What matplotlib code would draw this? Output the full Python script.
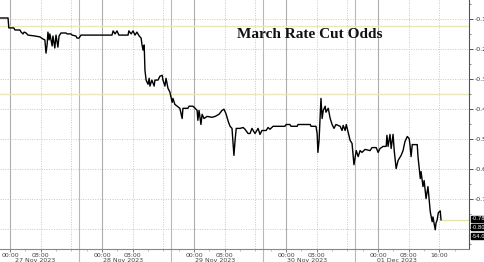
import numpy as np
import matplotlib
matplotlib.use("Agg")
import matplotlib.pyplot as plt
from matplotlib.ticker import MultipleLocator, FixedLocator

# DATOS (horas desde 27 Nov 2023 00:00, probabilidad implícita)
horas = [-2.6, -0.5, -0.3, 1.0, 1.3, 2.6, 2.9, 3.4, 3.7, 4.2, 4.7, 6.5, 7.8, 8.6, 9.1,
         9.4, 9.7, 9.9, 10.2, 10.4, 11.0, 11.2, 11.7, 12.0, 12.5, 12.8, 13.3, 14.6, 14.9,
         15.9, 16.2, 17.2, 17.5, 18.0, 18.5, 26.6, 26.9, 27.4, 27.9, 28.4, 30.8, 31.0,
         31.6, 32.1, 32.6, 33.1, 33.7, 34.2, 34.4, 34.7, 35.0, 35.2, 35.5, 36.0, 36.3,
         36.5, 37.0, 37.6, 37.8, 38.6, 39.1, 39.7, 39.9, 40.4, 40.7, 41.2, 41.7, 42.3,
         42.5, 43.0, 43.6, 44.3, 44.9, 45.1, 46.4, 46.7, 47.7, 48.3, 48.8, 49.0, 49.3,
         49.8, 50.1, 50.6, 51.4, 52.7, 53.5, 54.5, 55.3, 55.8, 56.3, 57.0, 57.4, 57.9,
         58.2, 58.4, 58.7, 59.0, 60.0, 60.8, 61.3, 62.1, 62.6, 63.1, 63.9, 64.7, 65.2,
         65.7, 66.8, 67.3, 67.8, 68.6, 71.7, 72.0, 73.0, 73.3, 74.9, 75.1, 78.3, 78.5,
         79.8, 80.1, 80.3, 80.6, 81.1, 81.4, 81.7, 82.2, 82.4, 83.0, 83.5, 84.0, 84.5,
         85.0, 86.1, 86.6, 86.9, 87.4, 87.7, 88.2, 88.7, 89.2, 89.7, 90.3, 90.8, 91.3,
         91.8, 92.6, 93.9, 94.4, 95.5, 96.0, 96.5, 97.3, 98.1, 98.3, 98.6, 99.1, 99.4,
         99.9, 100.2, 100.7, 101.2, 102.0, 102.5, 103.0, 103.6, 104.1, 104.3, 104.6,
         104.9, 106.2, 106.4, 107.0, 107.2, 107.7, 108.0, 108.5, 109.0, 109.6, 110.1,
         110.3, 110.9, 111.1, 111.4, 111.7, 112.2, 112.4]
odds = [-0.097, -0.097, -0.130, -0.130, -0.137, -0.137, -0.144, -0.150, -0.144, -0.147,
        -0.154, -0.157, -0.160, -0.167, -0.170, -0.214, -0.184, -0.144, -0.170, -0.150,
        -0.190, -0.157, -0.197, -0.154, -0.194, -0.157, -0.147, -0.147, -0.150, -0.150,
        -0.154, -0.157, -0.164, -0.164, -0.154, -0.154, -0.140, -0.150, -0.140, -0.154,
        -0.154, -0.140, -0.150, -0.140, -0.154, -0.144, -0.157, -0.164, -0.184, -0.204,
        -0.187, -0.271, -0.304, -0.318, -0.298, -0.324, -0.304, -0.324, -0.304, -0.304,
        -0.291, -0.288, -0.304, -0.324, -0.298, -0.331, -0.344, -0.378, -0.365, -0.385,
        -0.391, -0.398, -0.432, -0.398, -0.398, -0.391, -0.391, -0.398, -0.405, -0.438,
        -0.405, -0.452, -0.418, -0.432, -0.425, -0.428, -0.425, -0.418, -0.405, -0.401,
        -0.415, -0.445, -0.458, -0.465, -0.522, -0.555, -0.505, -0.465, -0.465, -0.462,
        -0.468, -0.482, -0.482, -0.465, -0.482, -0.465, -0.485, -0.472, -0.472, -0.462,
        -0.468, -0.458, -0.458, -0.452, -0.452, -0.458, -0.458, -0.452, -0.452, -0.458,
        -0.458, -0.482, -0.545, -0.505, -0.365, -0.432, -0.405, -0.391, -0.411, -0.398,
        -0.432, -0.452, -0.465, -0.452, -0.458, -0.472, -0.455, -0.472, -0.452, -0.478,
        -0.505, -0.515, -0.586, -0.539, -0.559, -0.539, -0.545, -0.535, -0.539, -0.529,
        -0.529, -0.545, -0.532, -0.525, -0.525, -0.488, -0.525, -0.485, -0.532, -0.485,
        -0.539, -0.599, -0.572, -0.555, -0.539, -0.509, -0.492, -0.499, -0.519, -0.559,
        -0.519, -0.519, -0.559, -0.632, -0.609, -0.659, -0.639, -0.699, -0.659, -0.743,
        -0.776, -0.760, -0.803, -0.780, -0.770, -0.746, -0.740, -0.770]

niveles_amarillos = [-0.123, -0.35]
ticks_y = [-0.10, -0.20, -0.30, -0.40, -0.50, -0.60, -0.70, -0.80]
# la etiqueta -0.80 queda tapada por las cajas del último valor
etiquetas_y = ["-0.10", "-0.20", "-0.30", "-0.40", "-0.50", "-0.60", "-0.70", ""]
ticks_x = [0, 8, 24, 32, 48, 56, 72, 80, 96, 104, 112]
etiquetas_x = ["00:00", "08:00"] * 5 + ["16:00"]
fechas = ["27 Nov 2023", "28 Nov 2023", "29 Nov 2023", "30 Nov 2023", "01 Dec 2023"]
pos_fechas = [6.5, 29.5, 53.5, 77.5, 101.0]
separadores = [18, 42, 66, 90]
etiquetas_ultimo = ["-0.78", "-0.80", "-54.0"]

fig = plt.figure(figsize=(4.85, 2.62), dpi=100)
ax = fig.add_axes([0, 13 / 262, 469 / 485, 249 / 262])
ax.set_xlim(-2.6, 119.7)
ax.set_ylim(-0.867, -0.037)

# rejilla
for y in ticks_y:
    ax.axhline(y, color="#c8c8c8", lw=0.7, ls=(0, (1, 1.5)), zorder=1)
for d in range(5):
    ax.axvline(24 * d, color="#adadad", lw=0.8, zorder=1)
    for h in (8, 16):
        ax.axvline(24 * d + h, color="#c8c8c8", lw=0.7, ls=(0, (1, 1.5)), zorder=1)
for s in separadores:
    ax.axvline(s, ymin=-13 / 249, ymax=1, color="#b8b8b8", lw=0.8, clip_on=False, zorder=1)
for y in niveles_amarillos:
    ax.axhline(y, color="#e9e9b8", lw=1.0, zorder=1)

ax.plot(horas, odds, color="black", lw=1.0, zorder=3)
ax.hlines(odds[-1], horas[-1], 119.7, color="#e3e3a8", lw=0.9, zorder=2)

ax.text(0.66, 0.86, "March Rate Cut Odds", transform=ax.transAxes, ha="center", va="center",
        fontsize=11, fontweight="bold", family="Liberation Serif", color="#111111")

# ejes
for lado in ("top", "left"):
    ax.spines[lado].set_visible(False)
ax.spines["right"].set_color("#555555")
ax.spines["right"].set_linewidth(0.8)
ax.spines["bottom"].set_color("#888888")
ax.spines["bottom"].set_linewidth(0.8)

ax.yaxis.tick_right()
ax.yaxis.set_major_locator(FixedLocator(ticks_y))
ax.yaxis.set_minor_locator(MultipleLocator(0.05))
ax.set_yticklabels(etiquetas_y)
ax.tick_params(axis="y", which="major", length=3, width=0.6, pad=1, labelsize=4.5,
               colors="#333333")
ax.tick_params(axis="y", which="minor", length=1.5, width=0.5, colors="#555555")

ax.xaxis.set_major_locator(FixedLocator(ticks_x))
ax.set_xticklabels(etiquetas_x)
ax.xaxis.set_minor_locator(MultipleLocator(4))
ax.tick_params(axis="x", which="major", length=2, width=0.5, pad=1, labelsize=4.5,
               colors="#444444")
ax.tick_params(axis="x", which="minor", length=1.2, width=0.4, colors="#888888")

for f, p in zip(fechas, pos_fechas):
    ax.text(p, -0.046, f, transform=ax.get_xaxis_transform(), ha="center", va="center",
            fontsize=4.5, color="#444444", clip_on=False)

for i, t in enumerate(etiquetas_ultimo):
    ax.text(1.006, odds[-1] + 0.004 - 0.029 * i, t, transform=ax.get_yaxis_transform(),
            ha="left", va="center", fontsize=3.8, color="white", clip_on=False,
            bbox=dict(boxstyle="square,pad=0.1", fc="black", ec="black"))

fig.savefig("out.png", dpi=100)
